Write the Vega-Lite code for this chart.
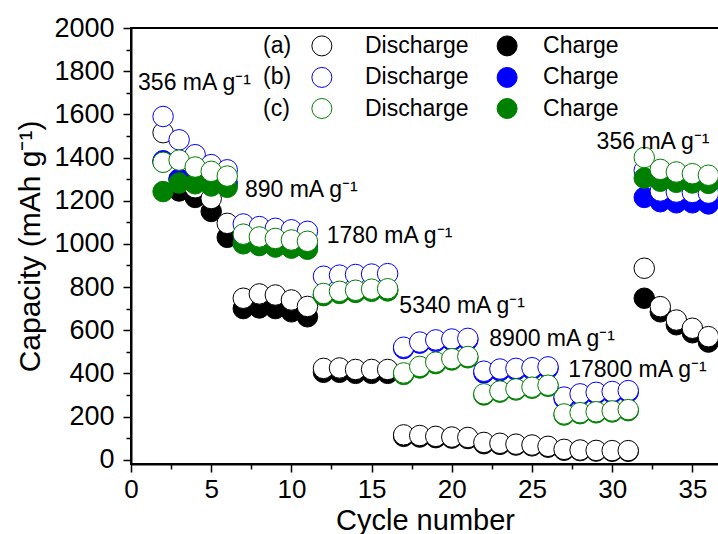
{
  "$schema": "https://vega.github.io/schema/vega-lite/v6.json",
  "width": 588,
  "height": 436,
  "autosize": {"type": "none"},
  "padding": {"left": 131, "top": 28, "right": 0, "bottom": 70},
  "config": {
    "font": "Liberation Sans",
    "view": {"stroke": "black", "strokeWidth": 2},
    "axis": {"grid": false, "domainColor": "black", "domainWidth": 2, "tickColor": "black", "tickWidth": 1.5, "labelColor": "black", "titleColor": "black", "labelFontSize": 27, "titleFontSize": 30, "titleFontWeight": "normal", "labelFont": "Liberation Sans", "titleFont": "Liberation Sans"}
  },
  "datasets": {
    "pts": [
      {"c":2,"v":1380,"s":"aC"},{"c":3,"v":1245,"s":"aC"},{"c":4,"v":1215,"s":"aC"},{"c":5,"v":1150,"s":"aC"},{"c":6,"v":1030,"s":"aC"},
      {"c":7,"v":700,"s":"aC"},{"c":8,"v":703,"s":"aC"},{"c":9,"v":700,"s":"aC"},{"c":10,"v":685,"s":"aC"},{"c":11,"v":662,"s":"aC"},
      {"c":12,"v":405,"s":"aC"},{"c":13,"v":405,"s":"aC"},{"c":14,"v":400,"s":"aC"},{"c":15,"v":400,"s":"aC"},{"c":16,"v":400,"s":"aC"},
      {"c":17,"v":108,"s":"aC"},{"c":18,"v":105,"s":"aC"},{"c":19,"v":102,"s":"aC"},{"c":20,"v":100,"s":"aC"},{"c":21,"v":98,"s":"aC"},
      {"c":22,"v":74,"s":"aC"},{"c":23,"v":71,"s":"aC"},{"c":24,"v":68,"s":"aC"},{"c":25,"v":64,"s":"aC"},{"c":26,"v":58,"s":"aC"},
      {"c":27,"v":44,"s":"aC"},{"c":28,"v":42,"s":"aC"},{"c":29,"v":40,"s":"aC"},{"c":30,"v":39,"s":"aC"},{"c":31,"v":39,"s":"aC"},
      {"c":32,"v":748,"s":"aC"},{"c":33,"v":685,"s":"aC"},{"c":34,"v":625,"s":"aC"},{"c":35,"v":588,"s":"aC"},{"c":36,"v":545,"s":"aC"},

      {"c":2,"v":1515,"s":"aD"},{"c":3,"v":1300,"s":"aD"},{"c":4,"v":1260,"s":"aD"},{"c":5,"v":1210,"s":"aD"},{"c":6,"v":1095,"s":"aD"},
      {"c":7,"v":748,"s":"aD"},{"c":8,"v":768,"s":"aD"},{"c":9,"v":763,"s":"aD"},{"c":10,"v":740,"s":"aD"},{"c":11,"v":710,"s":"aD"},
      {"c":12,"v":423,"s":"aD"},{"c":13,"v":425,"s":"aD"},{"c":14,"v":418,"s":"aD"},{"c":15,"v":418,"s":"aD"},{"c":16,"v":418,"s":"aD"},
      {"c":17,"v":115,"s":"aD"},{"c":18,"v":112,"s":"aD"},{"c":19,"v":108,"s":"aD"},{"c":20,"v":105,"s":"aD"},{"c":21,"v":103,"s":"aD"},
      {"c":22,"v":80,"s":"aD"},{"c":23,"v":76,"s":"aD"},{"c":24,"v":72,"s":"aD"},{"c":25,"v":68,"s":"aD"},{"c":26,"v":62,"s":"aD"},
      {"c":27,"v":48,"s":"aD"},{"c":28,"v":45,"s":"aD"},{"c":29,"v":43,"s":"aD"},{"c":30,"v":42,"s":"aD"},{"c":31,"v":42,"s":"aD"},
      {"c":32,"v":887,"s":"aD"},{"c":33,"v":709,"s":"aD"},{"c":34,"v":647,"s":"aD"},{"c":35,"v":609,"s":"aD"},{"c":36,"v":570,"s":"aD"},

      {"c":2,"v":1385,"s":"bC"},{"c":3,"v":1300,"s":"bC"},{"c":4,"v":1290,"s":"bC"},{"c":5,"v":1285,"s":"bC"},{"c":6,"v":1280,"s":"bC"},
      {"c":7,"v":1005,"s":"bC"},{"c":8,"v":995,"s":"bC"},{"c":9,"v":990,"s":"bC"},{"c":10,"v":988,"s":"bC"},{"c":11,"v":985,"s":"bC"},
      {"c":12,"v":765,"s":"bC"},{"c":13,"v":775,"s":"bC"},{"c":14,"v":780,"s":"bC"},{"c":15,"v":785,"s":"bC"},{"c":16,"v":787,"s":"bC"},
      {"c":17,"v":515,"s":"bC"},{"c":18,"v":540,"s":"bC"},{"c":19,"v":548,"s":"bC"},{"c":20,"v":552,"s":"bC"},{"c":21,"v":555,"s":"bC"},
      {"c":22,"v":402,"s":"bC"},{"c":23,"v":412,"s":"bC"},{"c":24,"v":415,"s":"bC"},{"c":25,"v":418,"s":"bC"},{"c":26,"v":423,"s":"bC"},
      {"c":27,"v":283,"s":"bC"},{"c":28,"v":298,"s":"bC"},{"c":29,"v":305,"s":"bC"},{"c":30,"v":309,"s":"bC"},{"c":31,"v":313,"s":"bC"},
      {"c":32,"v":1215,"s":"bC"},{"c":33,"v":1195,"s":"bC"},{"c":34,"v":1190,"s":"bC"},{"c":35,"v":1190,"s":"bC"},{"c":36,"v":1185,"s":"bC"},

      {"c":2,"v":1590,"s":"bD"},{"c":3,"v":1482,"s":"bD"},{"c":4,"v":1413,"s":"bD"},{"c":5,"v":1367,"s":"bD"},{"c":6,"v":1343,"s":"bD"},
      {"c":7,"v":1092,"s":"bD"},{"c":8,"v":1080,"s":"bD"},{"c":9,"v":1072,"s":"bD"},{"c":10,"v":1065,"s":"bD"},{"c":11,"v":1058,"s":"bD"},
      {"c":12,"v":850,"s":"bD"},{"c":13,"v":855,"s":"bD"},{"c":14,"v":858,"s":"bD"},{"c":15,"v":860,"s":"bD"},{"c":16,"v":862,"s":"bD"},
      {"c":17,"v":521,"s":"bD"},{"c":18,"v":545,"s":"bD"},{"c":19,"v":555,"s":"bD"},{"c":20,"v":559,"s":"bD"},{"c":21,"v":562,"s":"bD"},
      {"c":22,"v":410,"s":"bD"},{"c":23,"v":420,"s":"bD"},{"c":24,"v":423,"s":"bD"},{"c":25,"v":426,"s":"bD"},{"c":26,"v":430,"s":"bD"},
      {"c":27,"v":290,"s":"bD"},{"c":28,"v":305,"s":"bD"},{"c":29,"v":312,"s":"bD"},{"c":30,"v":316,"s":"bD"},{"c":31,"v":320,"s":"bD"},
      {"c":32,"v":1340,"s":"bD"},{"c":33,"v":1245,"s":"bD"},{"c":34,"v":1240,"s":"bD"},{"c":35,"v":1238,"s":"bD"},{"c":36,"v":1235,"s":"bD"},

      {"c":2,"v":1242,"s":"cC"},{"c":3,"v":1282,"s":"cC"},{"c":4,"v":1278,"s":"cC"},{"c":5,"v":1268,"s":"cC"},{"c":6,"v":1262,"s":"cC"},
      {"c":7,"v":1000,"s":"cC"},{"c":8,"v":992,"s":"cC"},{"c":9,"v":985,"s":"cC"},{"c":10,"v":980,"s":"cC"},{"c":11,"v":975,"s":"cC"},
      {"c":12,"v":760,"s":"cC"},{"c":13,"v":770,"s":"cC"},{"c":14,"v":775,"s":"cC"},{"c":15,"v":780,"s":"cC"},{"c":16,"v":782,"s":"cC"},
      {"c":17,"v":395,"s":"cC"},{"c":18,"v":425,"s":"cC"},{"c":19,"v":445,"s":"cC"},{"c":20,"v":462,"s":"cC"},{"c":21,"v":472,"s":"cC"},
      {"c":22,"v":300,"s":"cC"},{"c":23,"v":313,"s":"cC"},{"c":24,"v":323,"s":"cC"},{"c":25,"v":331,"s":"cC"},{"c":26,"v":340,"s":"cC"},
      {"c":27,"v":207,"s":"cC"},{"c":28,"v":213,"s":"cC"},{"c":29,"v":217,"s":"cC"},{"c":30,"v":221,"s":"cC"},{"c":31,"v":227,"s":"cC"},
      {"c":32,"v":1305,"s":"cC"},{"c":33,"v":1290,"s":"cC"},{"c":34,"v":1285,"s":"cC"},{"c":35,"v":1282,"s":"cC"},{"c":36,"v":1280,"s":"cC"},

      {"c":2,"v":1378,"s":"cD"},{"c":3,"v":1388,"s":"cD"},{"c":4,"v":1356,"s":"cD"},{"c":5,"v":1336,"s":"cD"},{"c":6,"v":1314,"s":"cD"},
      {"c":7,"v":1045,"s":"cD"},{"c":8,"v":1032,"s":"cD"},{"c":9,"v":1025,"s":"cD"},{"c":10,"v":1018,"s":"cD"},{"c":11,"v":1012,"s":"cD"},
      {"c":12,"v":770,"s":"cD"},{"c":13,"v":780,"s":"cD"},{"c":14,"v":785,"s":"cD"},{"c":15,"v":790,"s":"cD"},{"c":16,"v":792,"s":"cD"},
      {"c":17,"v":402,"s":"cD"},{"c":18,"v":432,"s":"cD"},{"c":19,"v":452,"s":"cD"},{"c":20,"v":468,"s":"cD"},{"c":21,"v":478,"s":"cD"},
      {"c":22,"v":305,"s":"cD"},{"c":23,"v":318,"s":"cD"},{"c":24,"v":328,"s":"cD"},{"c":25,"v":336,"s":"cD"},{"c":26,"v":345,"s":"cD"},
      {"c":27,"v":212,"s":"cD"},{"c":28,"v":218,"s":"cD"},{"c":29,"v":222,"s":"cD"},{"c":30,"v":226,"s":"cD"},{"c":31,"v":232,"s":"cD"},
      {"c":32,"v":1400,"s":"cD"},{"c":33,"v":1345,"s":"cD"},{"c":34,"v":1333,"s":"cD"},{"c":35,"v":1325,"s":"cD"},{"c":36,"v":1318,"s":"cD"}
    ],
    "leg": [
      {"c":11.9,"v":1917,"s":"aD"},{"c":23.45,"v":1917,"s":"aC"},
      {"c":11.9,"v":1771,"s":"bD"},{"c":23.45,"v":1771,"s":"bC"},
      {"c":11.9,"v":1627,"s":"cD"},{"c":23.45,"v":1627,"s":"cC"}
    ],
    "notes": [
      {"c":8.23,"v":1917,"t":"(a)"},{"c":14.59,"v":1917,"t":"Discharge"},{"c":25.69,"v":1917,"t":"Charge"},
      {"c":8.23,"v":1771,"t":"(b)"},{"c":14.59,"v":1771,"t":"Discharge"},{"c":25.69,"v":1771,"t":"Charge"},
      {"c":8.23,"v":1627,"t":"(c)"},{"c":14.59,"v":1627,"t":"Discharge"},{"c":25.69,"v":1627,"t":"Charge"},
      {"c":0.44,"v":1745,"t":"356 mA g⁻¹"},
      {"c":7.1,"v":1250,"t":"890 mA g⁻¹"},
      {"c":12.2,"v":1035,"t":"1780 mA g⁻¹"},
      {"c":16.73,"v":713,"t":"5340 mA g⁻¹"},
      {"c":22.34,"v":561,"t":"8900 mA g⁻¹"},
      {"c":27.26,"v":416,"t":"17800 mA g⁻¹"},
      {"c":29.03,"v":1470,"t":"356 mA g⁻¹"}
    ]
  },
  "layer": [
    {
      "data": {"name": "pts"},
      "mark": {"type": "point", "shape": "circle", "size": 420, "strokeWidth": 1, "opacity": 1, "filled": true},
      "encoding": {
        "x": {"field": "c", "type": "quantitative", "scale": {"domain": [0, 36.66], "nice": false, "zero": false},
          "axis": {"orient": "bottom", "values": [0,5,10,15,20,25,30,35], "format": "d", "tickSize": 8, "labelPadding": 4, "labelFontSize": 26, "title": "Cycle number", "titleFontSize": 29, "titlePadding": 4, "labelFlush": false}},
        "y": {"field": "v", "type": "quantitative", "scale": {"domain": [-20, 2000], "nice": false, "zero": false},
          "axis": {"orient": "left", "values": [0,200,400,600,800,1000,1200,1400,1600,1800,2000], "format": "d", "tickSize": 8, "labelPadding": 9, "title": "Capacity (mAh g⁻¹)", "titlePadding": 8, "labelFlush": false}},
        "fill": {"field": "s", "type": "nominal", "legend": null,
          "scale": {"domain": ["aC","aD","bC","bD","cC","cD"], "range": ["#000000","#ffffff","#0000ff","#ffffff","#008000","#ffffff"]}},
        "stroke": {"field": "s", "type": "nominal", "legend": null,
          "scale": {"domain": ["aC","aD","bC","bD","cC","cD"], "range": ["#000000","#000000","#0000ff","#0000ff","#008000","#008000"]}}
      }
    },
    {
      "data": {"name": "leg"},
      "mark": {"type": "point", "shape": "circle", "size": 400, "strokeWidth": 1, "opacity": 1, "filled": true},
      "encoding": {
        "x": {"field": "c", "type": "quantitative",
          "axis": {"orient": "bottom", "values": [2.5,7.5,12.5,17.5,22.5,27.5,32.5], "tickSize": 5, "labels": false, "domain": false, "title": null}},
        "y": {"field": "v", "type": "quantitative",
          "axis": {"orient": "left", "values": [100,300,500,700,900,1100,1300,1500,1700,1900], "tickSize": 5, "labels": false, "domain": false, "title": null}},
        "fill": {"field": "s", "type": "nominal", "legend": null},
        "stroke": {"field": "s", "type": "nominal", "legend": null}
      }
    },
    {
      "data": {"name": "notes"},
      "mark": {"type": "text", "align": "left", "baseline": "middle", "fontSize": 23, "color": "black", "font": "Liberation Sans"},
      "encoding": {
        "x": {"field": "c", "type": "quantitative", "axis": null},
        "y": {"field": "v", "type": "quantitative", "axis": null},
        "text": {"field": "t"}
      }
    }
  ],
  "resolve": {"axis": {"x": "independent", "y": "independent"}}
}
